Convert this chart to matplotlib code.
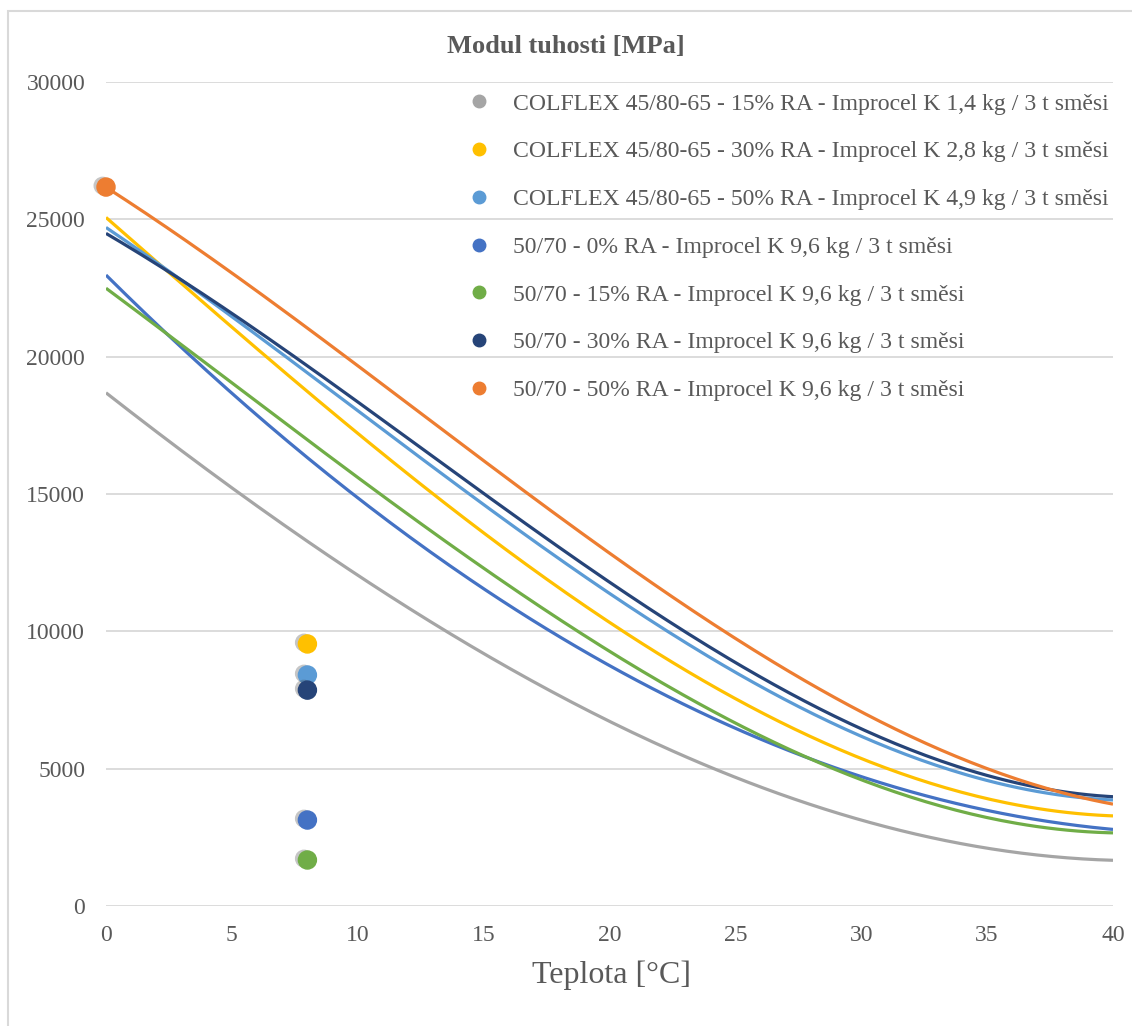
import numpy as np
import matplotlib
matplotlib.use('Agg')
import matplotlib.pyplot as plt
import matplotlib.patheffects as pe
from matplotlib.lines import Line2D
from matplotlib.patches import Rectangle

plt.rcParams['font.family'] = ['Liberation Serif', 'DejaVu Serif']

# nazvy serii (legenda)
labels = [
    'COLFLEX 45/80-65 - 15% RA - Improcel K 1,4 kg / 3 t směsi',
    'COLFLEX 45/80-65 - 30% RA - Improcel K 2,8 kg / 3 t směsi',
    'COLFLEX 45/80-65 - 50% RA - Improcel K 4,9 kg / 3 t směsi',
    '50/70 - 0% RA - Improcel K 9,6 kg / 3 t směsi',
    '50/70 - 15% RA - Improcel K 9,6 kg / 3 t směsi',
    '50/70 - 30% RA - Improcel K 9,6 kg / 3 t směsi',
    '50/70 - 50% RA - Improcel K 9,6 kg / 3 t směsi',
]
colors = ['#A5A5A5', '#FFC000', '#5B9BD5', '#4472C4', '#70AD47', '#264478', '#ED7D31']

# body (teplota, modul)
pt_x = [None, 8, 8, 8, 8, 8, 0]
pt_y = [None, 9540, 8410, 3130, 1675, 7860, 26175]

# spojnice trendu - odectene hodnoty
teplota = [0, 5, 10, 15, 20, 25, 30, 35, 40]
trend_gray   = [18680, 15255, 12003, 9186, 6723, 4758, 3070, 2100, 1675]
trend_yellow = [25050, 21110, 17195, 13604, 10279, 7585, 5315, 3980, 3252]
trend_lblue  = [24720, 21420, 18033, 14666, 11335, 8545, 6142, 4587, 3859]
trend_blue   = [22970, 18690, 14818, 11566, 8749, 6528, 4648, 3495, 2792]
trend_green  = [22500, 19016, 15607, 12367, 9224, 6688, 4466, 3374, 2610]
trend_navy   = [24500, 21565, 18312, 15073, 11785, 8883, 6408, 4770, 3980]
trend_orange = [26175, 23057, 19610, 16262, 12840, 9783, 7015, 5012, 3714]
trends = [trend_gray, trend_yellow, trend_lblue, trend_blue, trend_green, trend_navy, trend_orange]

W, H = 1132, 1026
fig = plt.figure(figsize=(W / 100, H / 100), dpi=100)
ax = fig.add_axes([106 / W, 1 - 906 / H, (1113 - 106) / W, (906 - 82) / H])

# ramecek grafu
fig.patches.append(Rectangle((8 / W, -0.1), 1.2, 1 - 11 / H + 0.1, transform=fig.transFigure,
                             fill=False, edgecolor='#d9d9d9', lw=1.5))

# polynomicka spojnice trendu (jako v Excelu)
tt = np.linspace(0, 40, 200)
for vals, c in zip(trends, colors):
    coef = np.polyfit(teplota, vals, 3)
    ax.plot(tt, np.polyval(coef, tt), color=c, lw=2.3, zorder=3, solid_capstyle='butt')

shadow = [pe.SimplePatchShadow(offset=(-2.5, 1), shadow_rgbFace='#444444', alpha=0.3), pe.Normal()]
for x, y, c in zip(pt_x, pt_y, colors):
    if x is None:
        continue
    ax.plot([x], [y], 'o', color=c, ms=13, mec=c, zorder=5, clip_on=False, path_effects=shadow)

ax.set_xlim(0, 40)
ax.set_ylim(0, 30000)
ax.set_xticks(range(0, 41, 5))
ax.set_yticks(range(0, 30001, 5000))
ax.grid(axis='y', color='#d9d9d9', lw=1.3)
ax.set_axisbelow(True)
for s in ax.spines.values():
    s.set_visible(False)
ax.tick_params(length=0, labelsize=17, labelcolor='#595959')
ax.tick_params(axis='x', pad=14)
ax.tick_params(axis='y', pad=15)

fig.text(566 / W, 1 - 47 / H, 'Modul tuhosti [MPa]', ha='center', va='center',
         fontsize=19, fontweight='bold', color='#595959')
fig.text(612 / W, 1 - 975 / H, 'Teplota [°C]', ha='center', va='center',
         fontsize=23, color='#595959')

handles = [Line2D([], [], ls='none', marker='o', ms=9, color=c) for c in colors]
leg = fig.legend(handles, labels, loc='upper left', bbox_to_anchor=(468 / W, 1 - 93 / H),
                 frameon=False, fontsize=17.1, labelspacing=1.1, handlelength=0.9,
                 handletextpad=1.0, borderpad=0, borderaxespad=0)
for t in leg.get_texts():
    t.set_color('#595959')

fig.savefig('out.png', dpi=100)
